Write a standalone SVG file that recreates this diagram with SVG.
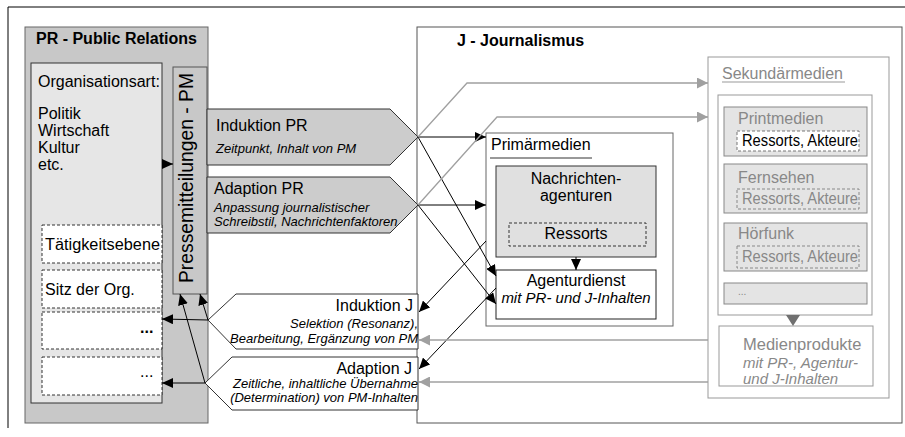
<svg xmlns="http://www.w3.org/2000/svg" width="905" height="437" viewBox="0 0 905 437">
<defs>
<marker id="ab" markerUnits="userSpaceOnUse" markerWidth="11" markerHeight="10" refX="11" refY="5" orient="auto"><path d="M0,0 L11,5 L0,10 z" fill="#000"/></marker>
<marker id="ag" markerUnits="userSpaceOnUse" markerWidth="11" markerHeight="11" refX="11" refY="5.5" orient="auto"><path d="M0,0 L11,5.5 L0,11 z" fill="#a0a0a0"/></marker>
</defs>
<style>
text{font-family:"Liberation Sans",Arial,sans-serif;font-size:16px;fill:#000}
.b{font-weight:bold}
.i{font-style:italic;font-size:13px}
.i15{font-style:italic;font-size:15px}
.g{fill:#888}
.m{text-anchor:middle}
.e{text-anchor:end}
.dash{stroke-dasharray:3,2}
.con{fill:none;stroke:#000;stroke-width:1;marker-end:url(#ab)}
.cong{fill:none;stroke:#a0a0a0;stroke-width:1.3;marker-end:url(#ag)}
</style>
<rect width="905" height="437" fill="#fff"/>
<path d="M8,428 V7 H905" fill="none" stroke="#000"/>

<g id="J">
<rect x="417" y="27" width="485" height="396" fill="#fff" stroke="#555"/>
<text x="457" y="46" class="b">J - Journalismus</text>
</g>

<g id="PR">
<rect x="25" y="27" width="183" height="396" fill="#c8c8c8" stroke="#666"/>
<text x="36" y="44" class="b">PR - Public Relations</text>
</g>

<g id="Organisationsart">
<rect x="31" y="63" width="131" height="340" fill="#e6e6e6" stroke="#333"/>
<text x="38" y="87">Organisationsart:</text>
<text x="38" y="119">Politik</text>
<text x="38" y="136">Wirtschaft</text>
<text x="38" y="153">Kultur</text>
<text x="38" y="170">etc.</text>
</g>
<g id="Taetigkeitsebene">
<rect x="42" y="225" width="120" height="38" fill="#fff" stroke="#333" class="dash"/>
<text x="45" y="250" textLength="115" lengthAdjust="spacingAndGlyphs">Tätigkeitsebene</text>
</g>
<g id="Sitz">
<rect x="42" y="270" width="120" height="38" fill="#fff" stroke="#333" class="dash"/>
<text x="45" y="295">Sitz der Org.</text>
</g>
<g id="Dots1">
<rect x="42" y="312" width="120" height="37" fill="#fff" stroke="#333" class="dash"/>
<text x="140" y="333" class="b">...</text>
</g>
<g id="Dots2">
<rect x="42" y="357" width="120" height="38" fill="#fff" stroke="#333" class="dash"/>
<text x="140" y="377">...</text>
</g>

<g id="PM">
<rect x="173" y="67" width="34" height="227" fill="#c8c8c8" stroke="#555"/>
<text transform="translate(193,283) rotate(-90)" x="0" y="0" style="font-size:21px" textLength="210" lengthAdjust="spacingAndGlyphs">Pressemitteilungen - PM</text>
</g>

<g id="InduktionPR">
<polygon points="207,109 390,109 418,137 390,165 207,165" fill="#cccccc" stroke="#333"/>
<text x="216" y="131">Induktion PR</text>
<text x="216" y="153" class="i">Zeitpunkt, Inhalt von PM</text>
</g>
<g id="AdaptionPR">
<polygon points="207,177 390,177 418,205 390,233 207,233" fill="#cccccc" stroke="#333"/>
<text x="214" y="194">Adaption PR</text>
<text x="214" y="212" class="i">Anpassung journalistischer</text>
<text x="214" y="226" class="i">Schreibstil, Nachrichtenfaktoren</text>
</g>
<g id="InduktionJ">
<polygon points="208,320 236,294 418,294 418,349 236,349" fill="#fff" stroke="#333"/>
<text x="413" y="311" class="e">Induktion J</text>
<text x="418" y="328" class="i e">Selektion (Resonanz),</text>
<text x="418" y="343" class="i e">Bearbeitung, Ergänzung von PM</text>
</g>
<g id="AdaptionJ">
<polygon points="205,383 232,357 418,357 418,410 232,410" fill="#fff" stroke="#333"/>
<text x="412" y="374" class="e">Adaption J</text>
<text x="418" y="388" class="i e">Zeitliche, inhaltliche Übernahme</text>
<text x="418" y="402" class="i e">(Determination) von PM-Inhalten</text>
</g>

<g id="Primaermedien">
<rect x="486" y="133" width="187" height="193" fill="#fff" stroke="#666"/>
<text x="491" y="150">Primärmedien</text>
<line x1="490" y1="158" x2="592" y2="158" stroke="#333"/>
</g>
<g id="Nachrichtenagenturen">
<rect x="496" y="166" width="160" height="91" fill="#e0e0e0" stroke="#333"/>
<text x="576" y="184" class="m">Nachrichten-</text>
<text x="576" y="201" class="m">agenturen</text>
<rect x="509" y="223" width="137" height="23" fill="none" stroke="#333" class="dash"/>
<text x="576" y="239" class="m">Ressorts</text>
</g>
<g id="Agenturdienst">
<rect x="496" y="270" width="160" height="49" fill="#fff" stroke="#222"/>
<text x="576" y="286" class="m">Agenturdienst</text>
<text x="576" y="303" class="i15 m">mit PR- und J-Inhalten</text>
</g>

<g id="Sekundaermedien">
<rect x="708" y="57" width="181" height="341" fill="#fff" stroke="#999"/>
<text x="722" y="79" class="g">Sekundärmedien</text>
<line x1="722" y1="82" x2="845" y2="82" stroke="#999"/>
<rect x="718" y="95" width="154" height="220" fill="#fff" stroke="#999"/>
</g>
<g id="Printmedien">
<rect x="724" y="107" width="143" height="49" fill="#e4e4e4" stroke="#888"/>
<text x="738" y="124" class="g">Printmedien</text>
<rect x="737" y="131" width="122" height="20" fill="#fff" stroke="#777" class="dash"/>
<text x="742" y="146" textLength="116" lengthAdjust="spacingAndGlyphs">Ressorts, Akteure</text>
</g>
<g id="Fernsehen">
<rect x="724" y="164" width="143" height="49" fill="#e4e4e4" stroke="#888"/>
<text x="738" y="183" class="g">Fernsehen</text>
<rect x="737" y="189" width="122" height="20" fill="none" stroke="#888" class="dash"/>
<text x="742" y="204" class="g" textLength="116" lengthAdjust="spacingAndGlyphs">Ressorts, Akteure</text>
</g>
<g id="Hoerfunk">
<rect x="724" y="223" width="143" height="48" fill="#e4e4e4" stroke="#888"/>
<text x="738" y="239" class="g">Hörfunk</text>
<rect x="737" y="246" width="122" height="22" fill="none" stroke="#888" class="dash"/>
<text x="742" y="262" class="g" textLength="116" lengthAdjust="spacingAndGlyphs">Ressorts, Akteure</text>
</g>
<g id="SekDots">
<rect x="724" y="283" width="143" height="21" fill="#e4e4e4" stroke="#888"/>
<text x="738" y="295" class="g" style="font-size:10px">...</text>
</g>
<g id="Medienprodukte">
<rect x="719" y="326" width="154" height="60" fill="#fff" stroke="#999"/>
<text x="743" y="350" class="g" style="font-size:16.5px">Medienprodukte</text>
<text x="743" y="368" class="i15 g">mit PR-, Agentur-</text>
<text x="743" y="384" class="i15 g">und J-Inhalten</text>
</g>

<g id="connectors">
<line x1="162" y1="164" x2="173" y2="164" class="con"/>
<line x1="418" y1="137" x2="486" y2="137" class="con"/>
<line x1="418" y1="137" x2="496" y2="276" class="con"/>
<line x1="418" y1="205" x2="486" y2="205" class="con"/>
<line x1="418" y1="205" x2="496" y2="304" class="con"/>
<line x1="486" y1="241" x2="419" y2="312" class="con"/>
<line x1="496" y1="288" x2="419" y2="369" class="con"/>
<line x1="576" y1="257" x2="576" y2="270" class="con"/>
<line x1="208" y1="320" x2="162" y2="319" class="con"/>
<line x1="205" y1="383" x2="162" y2="383" class="con"/>
<line x1="208" y1="320" x2="200" y2="294" class="con"/>
<line x1="205" y1="383" x2="180" y2="294" class="con"/>
<polyline points="418,137 467,83 708,83" class="cong"/>
<polyline points="418,205 497,117 708,117" class="cong"/>
<line x1="708" y1="340" x2="419" y2="340" class="cong"/>
<line x1="708" y1="382" x2="419" y2="382" class="cong"/>
<polygon points="786,315 800,315 793,326" fill="#707070"/>
</g>
</svg>
